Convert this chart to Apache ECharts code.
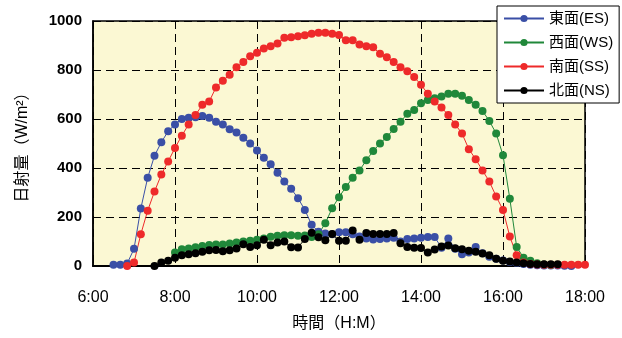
<!DOCTYPE html>
<html>
<head>
<meta charset="utf-8">
<script src="https://cdn.jsdelivr.net/npm/echarts@6/dist/echarts.min.js"></script>
<style>
  html, body { margin: 0; padding: 0; background: #fff; }
  #chart { width: 622px; height: 338px; }
</style>
</head>
<body>
<div id="chart"></div>
<script>
// 10分ごとの時刻 (6:00〜18:00)
const times = [
  '6:00','6:10','6:20','6:30','6:40','6:50',
  '7:00','7:10','7:20','7:30','7:40','7:50',
  '8:00','8:10','8:20','8:30','8:40','8:50',
  '9:00','9:10','9:20','9:30','9:40','9:50',
  '10:00','10:10','10:20','10:30','10:40','10:50',
  '11:00','11:10','11:20','11:30','11:40','11:50',
  '12:00','12:10','12:20','12:30','12:40','12:50',
  '13:00','13:10','13:20','13:30','13:40','13:50',
  '14:00','14:10','14:20','14:30','14:40','14:50',
  '15:00','15:10','15:20','15:30','15:40','15:50',
  '16:00','16:10','16:20','16:30','16:40','16:50',
  '17:00','17:10','17:20','17:30','17:40','17:50',
  '18:00'
]

const legendNames = ['東面(ES)', '西面(WS)', '南面(SS)', '北面(NS)']

// 東面
const eastData = [
  null, null, null, 5, 5, 10,
  70, 235, 360, 450, 505, 550,
  578, 600, 605, 607, 612, 605,
  589, 578, 558, 545, 523, 500,
  471, 442, 415, 381, 345, 315,
  277, 229, 168, 140, 133, 130,
  138, 138, 130, 120, 112, 108,
  110, 112, 115, 100, 110, 112,
  115, 118, 118, 75, 112, 70,
  48, 55, 78, 52, 38, 30,
  22, 16, 12, 8, 5, 3,
  2, 2, 2, 1, 0, null,
  null
]

// 西面
const westData = [
  null, null, null, null, null, null,
  null, null, null, null, null, null,
  55, 68, 71, 77, 82, 86,
  88, 88, 92, 96, 100, 103,
  107, 112, 119, 123, 126, 126,
  123, 125, 118, 130, 175, 236,
  281, 322, 360, 390, 432, 469,
  500, 527, 559, 589, 621, 637,
  664, 678, 685, 692, 703, 703,
  695, 678, 658, 633, 592, 541,
  452, 274, 78, 34, 21, 11,
  6, 4, null, null, null, null,
  null
]

// 南面
const southData = [
  null, null, null, null, null, 0,
  14, 130, 226, 304, 373, 427,
  482, 532, 578, 616, 658, 671,
  729, 756, 781, 811, 833, 856,
  870, 888, 897, 908, 932, 934,
  938, 942, 948, 952, 952, 948,
  943, 921, 921, 904, 897, 893,
  866, 852, 833, 811, 795, 771,
  740, 703, 671, 647, 616, 578,
  541, 477, 436, 390, 345, 284,
  229, 120, 44, 14, 8, 6,
  5, 5, 5, 5, 5, 5,
  5
]

// 北面
const northData = [
  null, null, null, null, null, null,
  null, null, null, 0, 14, 21,
  34, 44, 48, 52, 58, 64,
  65, 60, 64, 71, 89, 78,
  85, 107, 85, 96, 100, 77,
  76, 110, 136, 117, 105, 131,
  103, 103, 145, 107, 135, 131,
  131, 131, 135, 93, 78, 75,
  73, 55, 67, 80, 84, 72,
  68, 62, 58, 51, 44, 30,
  21, 18, 14, 11, 8, 7,
  7, 7, 7, null, null, null,
  null
]

const colors = ['#3a4fa6', '#20883a', '#ee2a2a', '#000000']
const seriesData = [eastData, westData, southData, northData]

const latin = 'Liberation Sans, Arial, Noto Sans CJK JP'

const chart = echarts.init(document.getElementById('chart'))

const option = {
  animation: false,
  grid: {
    left: 93,
    right: 37,
    top: 21,
    bottom: 72,
    show: true,
    backgroundColor: '#fbf8d3',
    borderColor: '#000',
    borderWidth: 1.5
  },
  legend: {
    data: legendNames,
    orient: 'vertical',
    left: 497,
    top: 6,
    padding: [5, 6, 5, 6],
    itemGap: 9,
    itemWidth: 40,
    itemHeight: 9,
    backgroundColor: '#fff',
    borderColor: '#000',
    borderWidth: 1,
    borderRadius: 0,
    textStyle: {
      fontFamily: latin,
      fontSize: 15,
      color: '#000'
    }
  },
  xAxis: {
    type: 'category',
    boundaryGap: false,
    data: times,
    name: '時間（H:M）',
    nameLocation: 'middle',
    nameGap: 50,
    nameTextStyle: {
      fontFamily: latin,
      fontSize: 16,
      color: '#000'
    },
    axisLine: { lineStyle: { color: '#000', width: 2 } },
    axisTick: { show: false },
    axisLabel: {
      interval: 11,
      margin: 24,
      fontFamily: latin,
      fontSize: 16,
      color: '#000'
    },
    splitLine: {
      show: true,
      interval: 11,
      lineStyle: { color: '#000', type: [8, 5], width: 1 }
    }
  },
  yAxis: {
    type: 'value',
    min: 0,
    max: 1000,
    interval: 200,
    name: '日射量（W/m²）',
    nameLocation: 'middle',
    nameGap: 62,
    nameTextStyle: {
      fontFamily: latin,
      fontSize: 16,
      color: '#000'
    },
    axisLine: { show: true, lineStyle: { color: '#000', width: 1.5 } },
    axisTick: { show: false },
    axisLabel: {
      margin: 11,
      formatter: (value) => String(value),
      fontFamily: latin,
      fontSize: 15,
      fontWeight: 'bold',
      color: '#000'
    },
    splitLine: {
      lineStyle: { color: '#000', type: [8, 5], width: 1 }
    }
  },
  series: legendNames.map((name, i) => ({
    name: name,
    type: 'line',
    data: seriesData[i],
    symbol: 'circle',
    symbolSize: 8,
    showAllSymbol: true,
    connectNulls: false,
    lineStyle: { color: colors[i], width: 1 },
    itemStyle: { color: colors[i] }
  }))
}

chart.setOption(option)
</script>
</body>
</html>
